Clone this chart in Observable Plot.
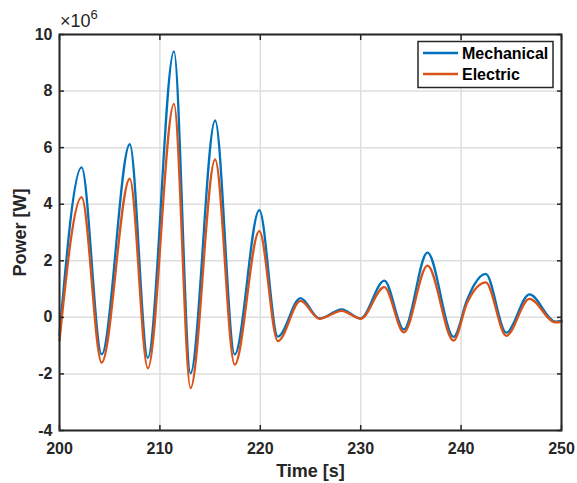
<!DOCTYPE html>
<html>
<head>
<meta charset="utf-8">
<script src="https://cdn.jsdelivr.net/npm/d3@7"></script>
<script src="https://cdn.jsdelivr.net/npm/@observablehq/plot@0.6"></script>
<style>
  html, body { margin: 0; padding: 0; background: white; }
  svg { display: block; }
</style>
</head>
<body>
<div id="chart"></div>
<script>
// Time of extrema / key points (s)
const time = [200.0, 202.2, 204.2, 207.0, 208.8, 211.4, 213.05, 215.5, 217.45, 219.9, 221.75, 224.0, 225.9, 228.1, 230.0, 232.35, 234.3, 236.65, 239.25, 240.6, 241.3, 242.45, 244.5, 246.8, 249.4, 250.0];
// Power values (×10^6 W)
const mechanical = [-0.62, 5.3, -1.31, 6.12, -1.43, 9.4, -1.98, 6.96, -1.31, 3.79, -0.68, 0.68, -0.04, 0.28, -0.04, 1.30, -0.43, 2.29, -0.69, 0.62, 1.15, 1.54, -0.54, 0.81, -0.15, -0.12];
const electric   = [-0.82, 4.25, -1.6, 4.9, -1.8, 7.55, -2.5, 5.58, -1.67, 3.05, -0.84, 0.58, -0.05, 0.23, -0.05, 1.07, -0.53, 1.83, -0.82, 0.52, 0.95, 1.24, -0.65, 0.65, -0.18, -0.15];
const seriesNames = ["Mechanical", "Electric"];
const seriesColors = ["#0072BD", "#D95319"];
const xTicks = [200, 210, 220, 230, 240, 250];
const yTicks = [-4, -2, 0, 2, 4, 6, 8, 10];

const rows = [];
seriesNames.forEach((series, s) => {
  const vals = s === 0 ? mechanical : electric;
  time.forEach((t, i) => rows.push({t, v: vals[i], series}));
});

const axisColor = "#262626";
const font = "'Liberation Sans', Arial, Helvetica, sans-serif";

const chart = Plot.plot({
  width: 577,
  height: 483,
  marginLeft: 59,
  marginRight: 16,
  marginTop: 34,
  marginBottom: 53,
  style: {fontFamily: font, fontWeight: "bold", fontSize: "16px", color: axisColor, background: "white"},
  x: {domain: [200, 250]},
  y: {domain: [-4, 10]},
  color: {domain: seriesNames, range: seriesColors},
  marks: [
    Plot.gridX(xTicks, {stroke: "#dedede", strokeOpacity: 1, strokeWidth: 1.5}),
    Plot.gridY(yTicks, {stroke: "#dedede", strokeOpacity: 1, strokeWidth: 1.5}),
    Plot.line(rows, {x: "t", y: "v", stroke: "series", z: "series", curve: "monotone-x", strokeWidth: 2.3}),
    Plot.frame({stroke: axisColor, strokeWidth: 2}),
    Plot.axisX(xTicks, {anchor: "bottom", tickSize: -5, tickPadding: 17, tickFormat: d => String(d), stroke: axisColor, strokeWidth: 1.5,
      label: "Time [s]", labelAnchor: "center", labelArrow: "none", labelOffset: 46, fontSize: 16}),
    Plot.axisX(xTicks, {anchor: "top", tickSize: -5, tickFormat: () => "", stroke: axisColor, strokeWidth: 1.5, label: null}),
    Plot.axisY(yTicks, {anchor: "left", tickSize: -5, tickPadding: 12, tickFormat: d => String(d), stroke: axisColor, strokeWidth: 1.5,
      label: "Power [W]", labelAnchor: "center", labelArrow: "none", labelOffset: 46, fontSize: 16}),
    Plot.axisY(yTicks, {anchor: "right", tickSize: -5, tickFormat: () => "", stroke: axisColor, strokeWidth: 1.5, label: null})
  ]
});

document.getElementById("chart").appendChild(chart);

const svg = d3.select(chart);
svg.selectAll("[aria-label='x-axis label'] text, [aria-label='y-axis label'] text").style("font-size", "18px");

// Exponent
const exp = svg.append("text")
  .attr("x", 60).attr("y", 27)
  .attr("text-anchor", "start")
  .attr("font-family", font).attr("font-size", 18).attr("fill", axisColor)
  .attr("font-weight", "normal");
exp.append("tspan").text("×10");
exp.append("tspan").attr("dy", -8).attr("font-size", 13).text("6");

// Legend
const lg = svg.append("g").attr("font-family", font).attr("font-weight", "bold").attr("font-size", 16).attr("fill", "#000").attr("text-anchor", "start");
lg.append("rect").attr("x", 418).attr("y", 41.5).attr("width", 135).attr("height", 46)
  .attr("fill", "white").attr("stroke", axisColor).attr("stroke-width", 1.5);
seriesNames.forEach((name, i) => {
  const y = 53 + i * 21;
  lg.append("line").attr("x1", 423).attr("x2", 458).attr("y1", y).attr("y2", y)
    .attr("stroke", seriesColors[i]).attr("stroke-width", 2.3);
  lg.append("text").attr("x", 462).attr("y", y + 5.5).attr("text-anchor", "start").text(name);
});
</script>
</body>
</html>
